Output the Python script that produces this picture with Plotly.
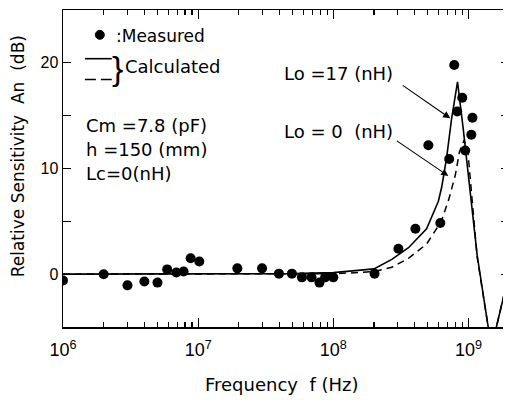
import math
import plotly.graph_objects as go

# Measured data
meas_freq = [1e6, 2e6, 3e6, 4e6, 5e6, 5.9e6, 6.9e6, 7.8e6, 8.8e6, 1.02e7,
             1.95e7, 2.97e7, 3.96e7, 4.94e7, 5.86e7, 6.9e7, 7.9e7, 8.7e7, 1.0e8,
             2.02e8, 3.03e8, 4.05e8, 5.05e8, 6.19e8, 7.2e8, 7.85e8, 8.26e8,
             9.0e8, 9.46e8, 1.05e9, 1.07e9]
meas_db = [-0.6, 0.0, -1.06, -0.7, -0.8, 0.45, 0.15, 0.25, 1.5, 1.2,
           0.55, 0.55, 0.05, 0.05, -0.3, -0.3, -0.8, -0.3, -0.3,
           0.05, 2.4, 4.3, 12.2, 4.85, 10.9, 19.8, 15.4,
           16.7, 11.7, 13.2, 14.8]

# Calculated, Lo = 17 nH (solid)
calc17_freq = [1e6, 1e7, 5e7, 1e8, 1.54e8, 2e8, 2.71e8, 3.6e8, 4.9e8, 5.99e8,
               6.33e8, 6.89e8, 7.5e8, 8.3e8, 9.14e8, 9.95e8, 1.05e9, 1.16e9,
               1.4e9, 1.47e9, 1.61e9, 1.78e9, 2.0e9]
calc17_db = [0.0, 0.0, 0.05, 0.15, 0.35, 0.5, 1.4, 2.5, 4.3, 6.9,
             8.2, 11.0, 14.7, 18.2, 13.8, 9.7, 6.9, 1.8,
             -5.0, -7.1, -5.0, -2.5, 0.1]

# Calculated, Lo = 0 nH (dashed)
calc0_freq = [1e6, 1e7, 5e7, 1e8, 1.54e8, 2e8, 2.71e8, 3.6e8, 4.9e8, 6.3e8,
              7.2e8, 8.0e8, 8.58e8, 9.3e8, 9.95e8, 1.02e9, 1.05e9, 1.13e9,
              1.16e9, 1.4e9, 1.47e9, 1.61e9, 1.78e9, 2.0e9]
calc0_db = [0.0, 0.0, 0.0, 0.05, 0.15, 0.25, 0.65, 1.5, 2.85, 5.0,
            7.2, 9.4, 11.6, 12.7, 11.3, 9.7, 7.6, 3.5,
            1.6, -5.0, -7.1, -5.0, -2.5, 0.1]

x_major = [1e6, 1e7, 1e8, 1e9]
x_major_text = ["10<sup>6</sup>", "10<sup>7</sup>", "10<sup>8</sup>", "10<sup>9</sup>"]
x_minor = [m * d for d in [1e6, 1e7, 1e8, 1e9] for m in range(2, 10)]
y_ticks = [0, 5, 10, 15, 20]
y_text = ["0", "", "10", "", "20"]

TXT = "DejaVu Sans, Liberation Sans, sans-serif"
NUM = "Liberation Sans, Arial, sans-serif"
XR = [6, 9.3]
YR = [-5, 25]

fig = go.Figure()
fig.add_trace(go.Scatter(x=calc17_freq, y=calc17_db, mode="lines",
                         line=dict(color="black", width=1.6), showlegend=False))
fig.add_trace(go.Scatter(x=calc0_freq, y=calc0_db, mode="lines",
                         line=dict(color="black", width=1.5, dash="7px,5px"), showlegend=False))
fig.add_trace(go.Scatter(x=meas_freq, y=meas_db, mode="markers",
                         marker=dict(color="black", size=10), showlegend=False))

# the page body has an 8px margin; figure sized so the plot area lands where the reference has it
fig.update_layout(
    width=503, height=392,
    margin=dict(l=55, r=0, t=0, b=73),
    plot_bgcolor="white", paper_bgcolor="white",
    font=dict(family=TXT, color="black", size=18),
    xaxis=dict(type="log", range=XR, showgrid=False, zeroline=False,
               showline=True, linecolor="black", linewidth=1.5, mirror="allticks",
               ticks="inside", ticklen=9, tickwidth=1.2, tickcolor="black",
               tickvals=x_major, ticktext=x_major_text, ticklabelstandoff=6,
               tickfont=dict(size=18, family=NUM),
               minor=dict(tickvals=x_minor, ticks="inside", ticklen=5,
                          tickwidth=1.2, tickcolor="black", showgrid=False)),
    yaxis=dict(range=YR, showgrid=False, zeroline=False,
               showline=True, linecolor="black", linewidth=1.5, mirror="ticks",
               ticks="inside", ticklen=8, tickwidth=1.2, tickcolor="black",
               tickvals=y_ticks, ticktext=y_text,
               tickfont=dict(size=16, family=NUM)),
)

# page-pixel -> paper conversion (plot area spans x 63..511, y 8..327 on the page)
def px(xp):
    return (xp - 63) / 448.0

def py(yp):
    return (327 - yp) / 319.0

anns = [
    dict(text=":Measured", x=px(114), y=py(34), xanchor="left", yanchor="middle", font=dict(size=17)),
    dict(text="}", x=px(118), y=py(66), xanchor="center", yanchor="middle",
         font=dict(size=34, family="Liberation Sans")),
    dict(text="Calculated", x=px(123), y=py(65), xanchor="left", yanchor="middle", font=dict(size=18)),
    dict(text="Cm =7.8 (pF)", x=px(84), y=py(124), xanchor="left", yanchor="middle", font=dict(size=18)),
    dict(text="h =150 (mm)", x=px(84), y=py(148), xanchor="left", yanchor="middle", font=dict(size=18)),
    dict(text="Lc=0(nH)", x=px(84), y=py(173), xanchor="left", yanchor="middle", font=dict(size=18)),
    dict(text="Lo =17 (nH)", x=px(340), y=py(72), xanchor="center", yanchor="middle", font=dict(size=18)),
    dict(text="Lo = 0  (nH)", x=px(340), y=py(130), xanchor="center", yanchor="middle", font=dict(size=18)),
    dict(text="Frequency  f (Hz)", x=px(283), y=py(385), xanchor="center", yanchor="middle", font=dict(size=18)),
    dict(text="Relative Sensitivity  An  (dB)", x=px(18), y=py(155), xanchor="center", yanchor="middle",
         textangle=-90, font=dict(size=17)),
]
for a in anns:
    a.update(xref="paper", yref="paper", showarrow=False)
    fig.add_annotation(**a)

# arrows pointing at the two calculated curves
fig.add_annotation(x=math.log10(7.33e8), y=14.75, xref="x", yref="y", text="",
                   showarrow=True, arrowhead=2, arrowsize=1.3, arrowwidth=1.1, arrowcolor="black",
                   ax=-49, ay=-34, axref="pixel", ayref="pixel")
fig.add_annotation(x=math.log10(7.1e8), y=9.3, xref="x", yref="y", text="",
                   showarrow=True, arrowhead=2, arrowsize=1.3, arrowwidth=1.1, arrowcolor="black",
                   ax=-53, ay=-36, axref="pixel", ayref="pixel")

# legend samples
fig.add_shape(type="circle", xref="paper", yref="paper",
              x0=px(95.5), x1=px(104.5), y0=py(37.5), y1=py(28.5),
              fillcolor="black", line=dict(color="black", width=1))
fig.add_shape(type="line", xref="paper", yref="paper",
              x0=px(85), x1=px(112), y0=py(57), y1=py(57),
              line=dict(color="black", width=1.6))
fig.add_shape(type="line", xref="paper", yref="paper",
              x0=px(85), x1=px(112), y0=py(78), y1=py(78),
              line=dict(color="black", width=1.5, dash="11px,5px"))

fig.write_html("out.html", config={"staticPlot": True})
